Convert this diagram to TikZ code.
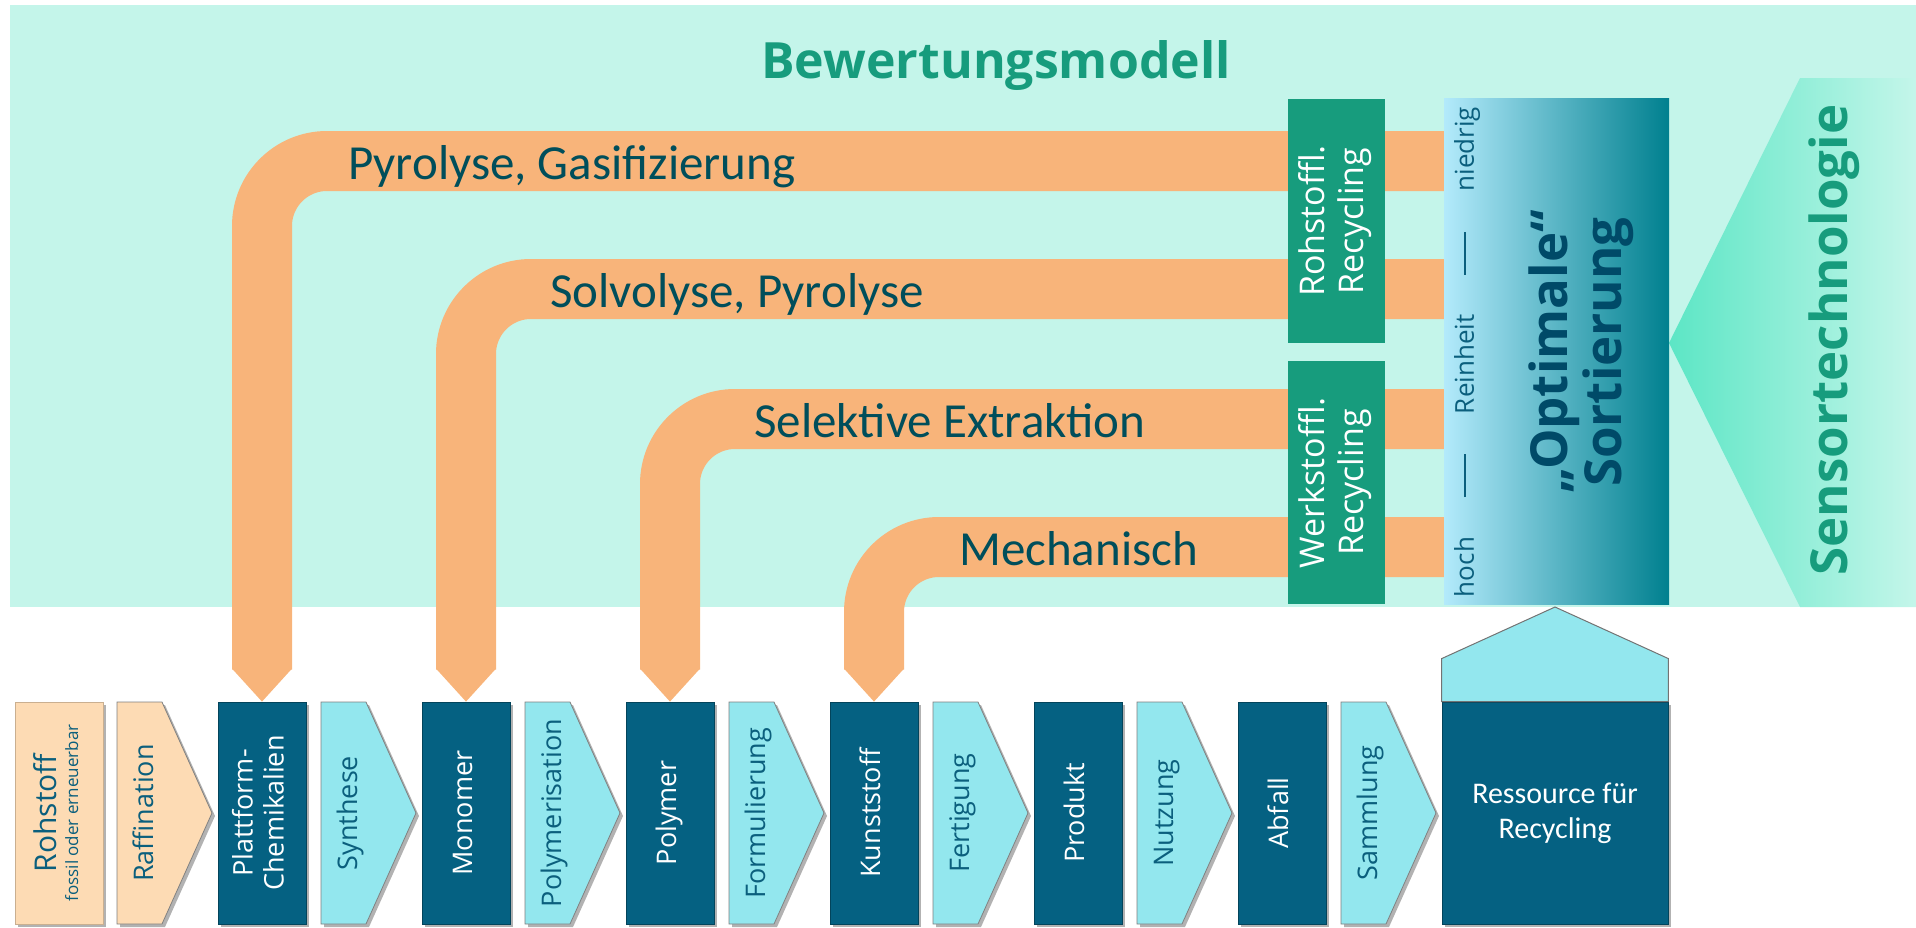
\documentclass[tikz,border=0pt]{standalone}
\usepackage{fontspec}
\setmainfont{Open Sans}
\newfontfamily\schmal{Carlito}
\usetikzlibrary{shadows}

\definecolor{minze}{HTML}{C4F5EA}
\definecolor{rohrfarbe}{HTML}{F8B47A}
\definecolor{gruen}{HTML}{179C7D}
\definecolor{dunkelblau}{HTML}{056182}
\definecolor{hellblau}{HTML}{93E7EE}
\definecolor{pfirsich}{HTML}{FDDBB4}
\definecolor{textblau}{HTML}{0B5F7D}
\definecolor{rohrschrift}{HTML}{004E5B}
\definecolor{sortA}{HTML}{B3EAFB}
\definecolor{sortB}{HTML}{8CC8DC}
\definecolor{sortC}{HTML}{00808F}
\definecolor{optblau}{HTML}{004A68}
\definecolor{sensorA}{HTML}{5CE6C5}
\definecolor{sensorB}{HTML}{C4F6EA}

\newcommand{\senkrecht}[1]{\rotatebox{90}{\begin{tabular}{@{}c@{}}#1\end{tabular}}}

\tikzset{
    schatten/.style={drop shadow={shadow xshift=3pt, shadow yshift=-3pt, opacity=0.3, fill=black}},
    kasten/.style={fill=dunkelblau, draw=dunkelblau!70!black, line width=0.8pt, minimum width=88pt, minimum height=222pt, inner sep=0pt, text=white, font=\fontsize{27}{31}\selectfont, schatten},
    schritt/.style={fill=hellblau, draw=black!50, line width=0.8pt, schatten},
    schritttext/.style={text=textblau, inner sep=0pt, font=\fontsize{27}{31}\selectfont},
    rohr/.style={draw=rohrfarbe, line width=60pt, rounded corners=65pt},
    rohrtext/.style={text=rohrschrift, inner sep=0pt, anchor=base west, font=\schmal\fontsize{49}{55}\selectfont},
    gruenkasten/.style={fill=gruen, minimum width=97pt, inner sep=0pt, text=white, font=\fontsize{34}{39}\selectfont},
}

\begin{document}
\begin{tikzpicture}[x=1pt, y=-1pt]
\useasboundingbox (0,0) rectangle (1916,927);
\fill[minze] (10,5) rectangle (1916,607);
\shade[left color=sensorA, right color=sensorB] (1800,78) -- (1669,343) -- (1800,607) -- (1916,607) -- (1916,78) -- cycle;
\node[text=gruen, anchor=base, inner sep=0pt, font=\bfseries\fontsize{50}{54}\selectfont] (titel) at (996,78) {Bewertungsmodell};
\node[text=gruen, rotate=90, inner sep=0pt, font=\bfseries\fontsize{51}{55}\selectfont] (sensor) at (1834,340) {Sensortechnologie};

\node[minimum width=225pt, minimum height=506pt, inner sep=0pt, left color=sortA, middle color=sortB, right color=sortC] (sort) at (1556.5,351) {};
\node[text=textblau, rotate=90, inner sep=0pt, font=\fontsize{26}{30}\selectfont] (rein) at (1467,352)
    {\hbox to 490pt{hoch\hfill\rule[8pt]{43pt}{1.5pt}\hfill Reinheit\hfill\rule[8pt]{43pt}{1.5pt}\hfill niedrig}};
\node[text=optblau, rotate=90, inner sep=0pt, align=center, font=\bfseries\fontsize{51}{54}\selectfont] (opt) at (1581,352) {„Optimale“\\Sortierung};

\node[kasten, fill=pfirsich, draw=pfirsich!80!black, text=textblau] (roh) at (59,813)
    {\fontsize{17}{22}\selectfont\senkrecht{\fontsize{30}{30}\selectfont Rohstoff\\fossil oder erneuerbar}};
\fill[schritt, fill=pfirsich] (117,702) -- ++(45,0) -- ++(50,111) -- ++(-50,111) -- ++(-45,0) -- cycle;
\node[schritttext] (raff) at (147,813) {\senkrecht{Raffination}};
\foreach \i/\name/\txt in {0/chem/{Plattform-\\Chemikalien}, 1/mono/Monomer, 2/poly/Polymer, 3/kunst/Kunststoff, 4/prod/Produkt, 5/abf/Abfall}
    \node[kasten] (\name) at (262+204*\i,813) {\senkrecht{\txt}};
\foreach \i/\name/\txt in {0/syn/Synthese, 1/polrk/Polymerisation, 2/form/Formulierung, 3/fert/Fertigung, 4/nutz/Nutzung, 5/samm/Sammlung}
{
    \fill[schritt] (321+204*\i,702) -- ++(45,0) -- ++(50,111) -- ++(-50,111) -- ++(-45,0) -- cycle;
    \node[schritttext] (\name) at (351+204*\i,813) {\senkrecht{\txt}};
}
\node[kasten, minimum width=226pt, font=\schmal\fontsize{30}{35}\selectfont, align=center] (res) at (1555,813) {Ressource für\\Recycling};
\filldraw[fill=hellblau, draw=black!55, line width=1pt] (res.north west) -- ++(0,-43) -- (1555,607) -- ([yshift=43pt]res.north east) -- (res.north east) -- cycle;

\foreach \y/\ziel in {161/chem, 289/mono, 419/poly, 547/kunst}
{
    \path (sort.west) ++(0,\y-351) coordinate (anfang);
    \draw[rohr] (anfang) -| ([yshift=32pt]\ziel.north);
    \fill[rohrfarbe] ([xshift=-30pt,yshift=33pt]\ziel.north) -- (\ziel.north) -- ([xshift=30pt,yshift=33pt]\ziel.north) -- cycle;
}
\node[rohrtext] (pyro) at (348,179) {Pyrolyse, Gasifizierung};
\node[rohrtext] (solvo) at (550,307) {Solvolyse, Pyrolyse};
\node[rohrtext] (selekt) at (754,437) {Selektive Extraktion};
\node[rohrtext] (mech) at (959,565) {Mechanisch};

\node[gruenkasten, minimum height=244pt] (rohstoffrec) at (1336.5,221) {\senkrecht{Rohstoffl.\\Recycling}};
\node[gruenkasten, minimum height=243pt] (werkstoffrec) at (1336.5,482.5) {\senkrecht{Werkstoffl.\\Recycling}};
\end{tikzpicture}
\end{document}
